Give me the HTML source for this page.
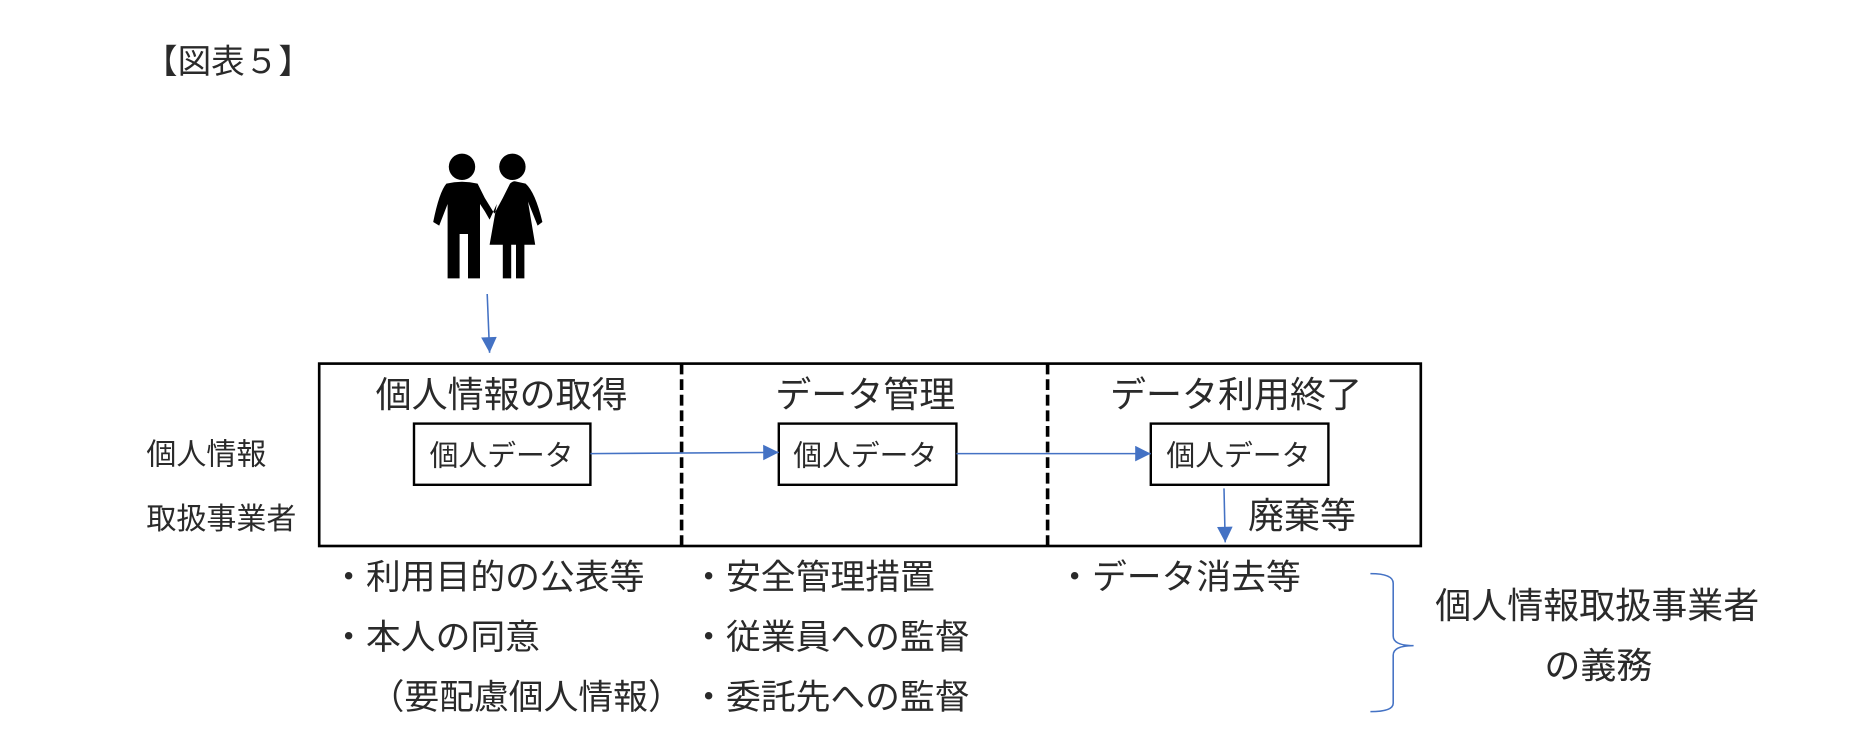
<!DOCTYPE html>
<html><head><meta charset="utf-8"><style>
html,body{margin:0;padding:0;background:#fff}
svg{display:block}
text{font-family:"Liberation Sans","Noto Sans CJK JP",sans-serif;fill:#2a2a2a}
</style></head><body>
<svg width="1872" height="756" viewBox="0 0 1560 630" xmlns="http://www.w3.org/2000/svg">
<defs><marker id="a" viewBox="0 0 10 10" refX="10" refY="5" markerWidth="15" markerHeight="13" orient="auto" markerUnits="userSpaceOnUse"><path d="M0,0 L10,5 L0,10 z" fill="#4472C4"/></marker></defs>
<text x="120" y="61" font-size="28" font-family="Liberation Serif,'Noto Serif CJK SC',serif">【図表５】</text>
<!-- people -->
<g fill="#000">
<circle cx="385" cy="139" r="11"/>
<circle cx="427" cy="139" r="11"/>
<path d="M372,153 Q385,150 398,153 L404,165 L412,178 L419,165 L425,153 Q427,151 429,151 L438,153 Q446,160 452,185 L448,188 L440,168 L446,204 L437,204 L437,232 L430,232 L430,204 L426,204 L426,232 L419,232 L419,204 L408,204 L414,170 L408,183 L404,176 L400,170 L400,232 L390,232 L390,195 L383,195 L383,232 L373,232 L373,170 L366,188 L361,185 Q366,160 372,153 Z"/>
</g>
<line x1="406" y1="245" x2="408" y2="294" stroke="#4472C4" stroke-width="1.3" marker-end="url(#a)"/>
<rect x="266" y="303" width="918" height="152" fill="none" stroke="#000" stroke-width="2.2"/>
<line x1="568" y1="303" x2="568" y2="455" stroke="#000" stroke-width="3" stroke-dasharray="9,4"/>
<line x1="873" y1="303" x2="873" y2="455" stroke="#000" stroke-width="3" stroke-dasharray="9,4"/>
<text x="418" y="339" font-size="30" text-anchor="middle">個人情報の取得</text>
<text x="721" y="339" font-size="30" text-anchor="middle">データ管理</text>
<text x="1030" y="339" font-size="30" text-anchor="middle">データ利用終了</text>
<rect x="345" y="353" width="147" height="51" fill="none" stroke="#000" stroke-width="2"/>
<rect x="649" y="353" width="148" height="51" fill="none" stroke="#000" stroke-width="2"/>
<rect x="959" y="353" width="148" height="51" fill="none" stroke="#000" stroke-width="2"/>
<text x="418" y="388" font-size="24" text-anchor="middle">個人データ</text>
<text x="721" y="388" font-size="24" text-anchor="middle">個人データ</text>
<text x="1032" y="388" font-size="24" text-anchor="middle">個人データ</text>
<line x1="492" y1="378" x2="649" y2="377" stroke="#4472C4" stroke-width="1.3" marker-end="url(#a)"/>
<line x1="797" y1="378" x2="959" y2="378" stroke="#4472C4" stroke-width="1.3" marker-end="url(#a)"/>
<line x1="1020" y1="407" x2="1021" y2="452" stroke="#4472C4" stroke-width="1.3" marker-end="url(#a)"/>
<text x="1040" y="440" font-size="30">廃棄等</text>
<text x="122" y="387" font-size="25">個人情報</text>
<text x="122" y="441" font-size="25">取扱事業者</text>
<g font-size="29">
<text x="276" y="491">・利用目的の公表等</text>
<text x="276" y="541">・本人の同意</text>
<text x="308" y="591">（要配慮個人情報）</text>
<text x="576" y="491">・安全管理措置</text>
<text x="576" y="541">・従業員への監督</text>
<text x="576" y="591">・委託先への監督</text>
<text x="881" y="491">・データ消去等</text>
</g>
<path d="M1142,478 Q1161,478 1161,486 L1161,530 Q1161,538 1178,538 Q1161,538 1161,546 L1161,586 Q1161,593 1142,593" fill="none" stroke="#4472C4" stroke-width="1.3"/>
<text x="1331" y="515" font-size="30" text-anchor="middle">個人情報取扱事業者</text>
<text x="1332" y="565" font-size="30" text-anchor="middle">の義務</text>
</svg>
</body></html>
